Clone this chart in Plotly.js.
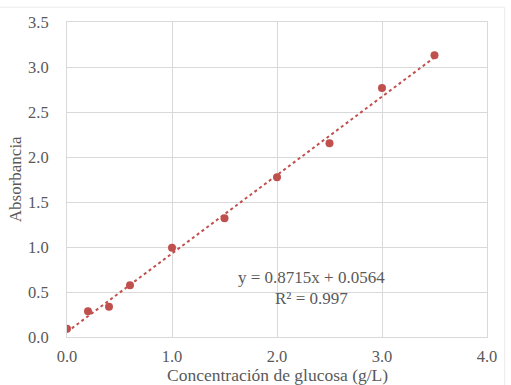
<!DOCTYPE html>
<html>
<head>
<meta charset="utf-8">
<script src="https://cdn.plot.ly/plotly-3.0.1.min.js"></script>
<style>html,body{margin:0;padding:0;background:#fff;}#chart{width:511px;height:385px;}</style>
</head>
<body>
<div id="chart"></div>
<script>
var concentracion = [0.0, 0.2, 0.4, 0.6, 1.0, 1.5, 2.0, 2.5, 3.0, 3.5];
var absorbancia = [0.093, 0.285, 0.337, 0.574, 0.993, 1.319, 1.774, 2.152, 2.767, 3.130];
var pendiente = 0.8715;
var intercepto = 0.0564;
var ecuacion = ["y = 0.8715x + 0.0564", "R² = 0.997"];
var xTitulo = "Concentración de glucosa (g/L)";
var yTitulo = "Absorbancia";
var xTicks = [0, 1, 2, 3, 4];
var xTickLabels = ["0.0", "1.0", "2.0", "3.0", "4.0"];
var yTicks = [0, 0.5, 1, 1.5, 2, 2.5, 3, 3.5];
var yTickLabels = ["0.0", "0.5", "1.0", "1.5", "2.0", "2.5", "3.0", "3.5"];

var xMin = Math.min.apply(null, concentracion);
var xMax = Math.max.apply(null, concentracion);
var trendX = [xMin, xMax];
var trendY = trendX.map(function (x) { return pendiente * x + intercepto; });

var red = '#C0504D';
var gray = '#595959';
var fontFam = 'Liberation Serif';

var data = [
  {x: trendX, y: trendY, mode: 'lines', line: {color: red, width: 2, dash: 'dot'}, hoverinfo: 'skip', showlegend: false},
  {x: concentracion, y: absorbancia, mode: 'markers', marker: {color: red, size: 8}, showlegend: false}
];

var layout = {
  width: 511, height: 385,
  margin: {l: 67, r: 24, t: 22, b: 48},
  paper_bgcolor: '#fff', plot_bgcolor: '#fff',
  font: {family: fontFam, color: gray, size: 17},
  xaxis: {
    range: [0, 4], tickvals: xTicks, ticktext: xTickLabels,
    showgrid: true, gridcolor: '#D9D9D9', gridwidth: 1,
    zeroline: false, showline: true, linecolor: '#D9D9D9', mirror: true,
    ticks: '', ticklabelstandoff: 4,
    tickfont: {size: 16.5, color: gray, family: fontFam}
  },
  yaxis: {
    range: [0, 3.5], tickvals: yTicks, ticktext: yTickLabels,
    showgrid: true, gridcolor: '#D9D9D9', gridwidth: 1,
    zeroline: false, showline: true, linecolor: '#D9D9D9', mirror: true,
    ticks: '', ticklabelstandoff: 14,
    tickfont: {size: 16.5, color: gray, family: fontFam}
  },
  annotations: [
    {x: 2.33, y: 0.663, xref: 'x', yref: 'y', text: ecuacion[0], showarrow: false, font: {size: 17, color: gray, family: fontFam}},
    {x: 2.33, y: 0.43, xref: 'x', yref: 'y', text: ecuacion[1], showarrow: false, font: {size: 17, color: gray, family: fontFam}},
    {x: 0.5, y: -0.122, xref: 'paper', yref: 'paper', xanchor: 'center', yanchor: 'middle', text: xTitulo, showarrow: false, font: {size: 17.5, color: gray, family: fontFam}},
    {x: -0.122, y: 0.5, xref: 'paper', yref: 'paper', xanchor: 'center', yanchor: 'middle', textangle: -90, text: yTitulo, showarrow: false, font: {size: 17, color: gray, family: fontFam}}
  ],
  shapes: [
    {type: 'line', xref: 'paper', yref: 'paper', x0: -0.2, x1: 1.042, y0: 1.047, y1: 1.047, line: {color: '#EBEBEB', width: 1}},
    {type: 'line', xref: 'paper', yref: 'paper', x0: 1.042, x1: 1.042, y0: -0.2, y1: 1.047, line: {color: '#EBEBEB', width: 1}}
  ]
};

Plotly.newPlot('chart', data, layout, {displayModeBar: false, staticPlot: true});
</script>
</body>
</html>
